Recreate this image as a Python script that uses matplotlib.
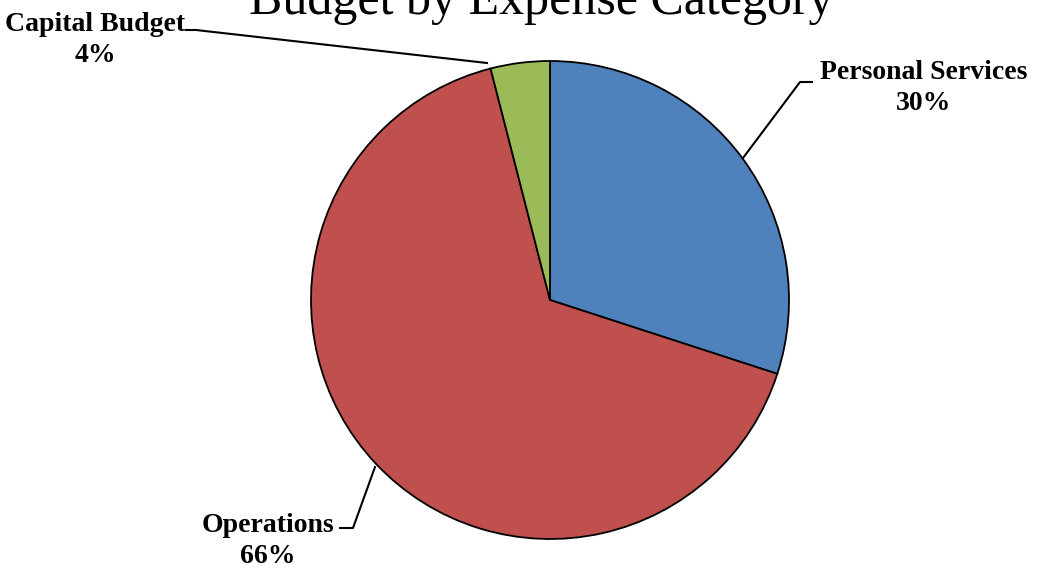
import matplotlib
matplotlib.use("Agg")
import matplotlib.pyplot as plt

labels = ["Personal Services", "Operations", "Capital Budget"]
shares = [30, 66, 4]
colors = ["#4F81BD", "#C0504D", "#9BBB59"]

W, H = 1037, 570
fig = plt.figure(figsize=(W / 100, H / 100), dpi=100)
ax = fig.add_axes([0, 0, 1, 1])

cx, cy, r = 550, H - 300, 239
ax.pie(shares, colors=colors, startangle=90, counterclock=False,
       center=(cx, cy), radius=r,
       wedgeprops=dict(edgecolor="black", linewidth=1.3))
ax.set_xlim(0, W)
ax.set_ylim(0, H)
ax.set_aspect("equal")
ax.axis("off")

font = "Liberation Serif"
ax.text(541, H - 14, "Budget by Expense Category", ha="center", va="baseline",
        fontsize=36, family=font)

# leader lines: (pie edge) -> elbow -> end
leaders = {
    "Personal Services": [(743, 158), (800, 82), (812, 82)],
    "Operations": [(375, 467), (353, 528), (340, 528)],
    "Capital Budget": [(487, 63), (196, 30), (186, 30)],
}
label_pos = {
    "Personal Services": (924, 88),
    "Operations": (268, 541),
    "Capital Budget": (95, 40),
}
for lab, pct in zip(labels, shares):
    pts = leaders[lab]
    ax.plot([p[0] for p in pts], [H - p[1] for p in pts], color="black", lw=1.5)
    x, y = label_pos[lab]
    ax.text(x, H - y, f"{lab}\n{pct}%", ha="center", va="center",
            fontsize=20, fontweight="bold", family=font, linespacing=1.32)

fig.savefig("out.png", dpi=100)
